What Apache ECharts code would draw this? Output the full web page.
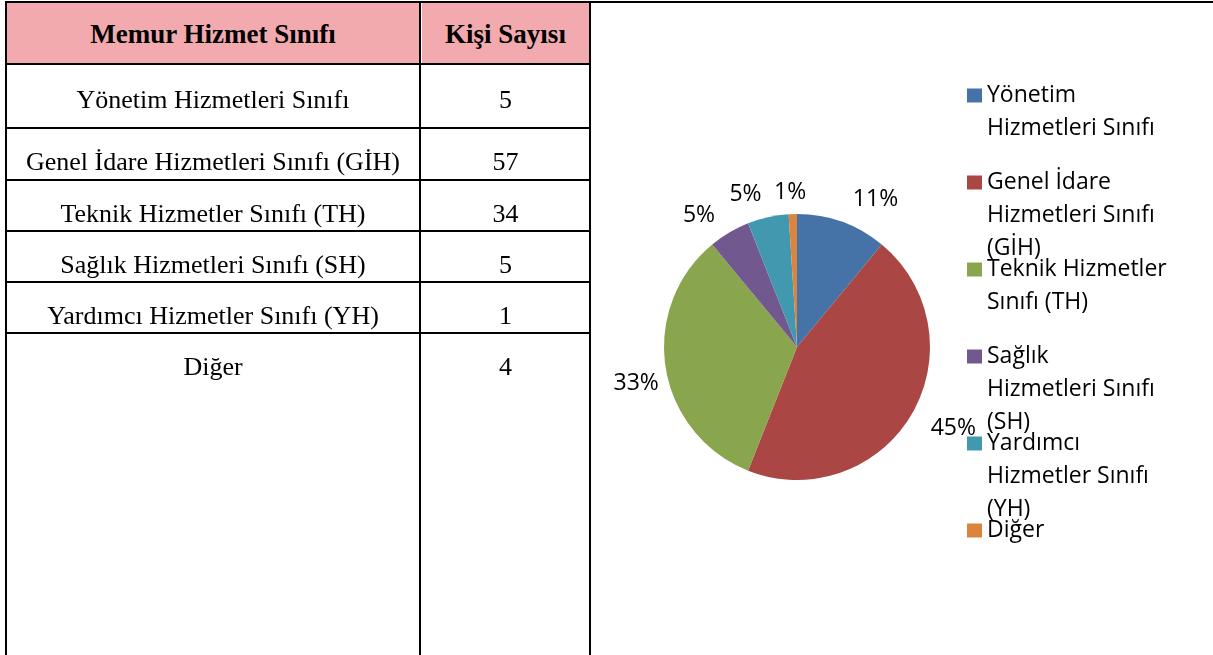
<!DOCTYPE html>
<html>
<head>
<meta charset="utf-8">
<script src="https://cdn.jsdelivr.net/npm/echarts@6/dist/echarts.min.js"></script>
<style>
  body { margin: 0; background: #fff; }
  #page { position: relative; width: 1213px; height: 655px; overflow: hidden; }
  #chart { position: absolute; left: 0; top: 0; width: 1213px; height: 655px; }
  .line { position: absolute; background: #000; z-index: 3; }
  .cell {
    position: absolute; z-index: 2; text-align: center; box-sizing: border-box;
    font-family: "Liberation Serif", serif; font-size: 26px; color: #000; line-height: 28px;
  }
  .head { background: #f2aaae; font-weight: bold; font-size: 27px; display: flex; align-items: center; justify-content: center; padding-top: 2px; }
  .body { padding-top: 19px; }
</style>
</head>
<body>
<div id="page">
  <div id="chart"></div>
</div>
<script>
const tableHeaders = ["Memur Hizmet Sınıfı", "Kişi Sayısı"];
const tableClasses = [
  "Yönetim Hizmetleri Sınıfı",
  "Genel İdare Hizmetleri Sınıfı (GİH)",
  "Teknik Hizmetler Sınıfı (TH)",
  "Sağlık Hizmetleri Sınıfı (SH)",
  "Yardımcı Hizmetler Sınıfı (YH)",
  "Diğer",
];
const tableCounts = [5, 57, 34, 5, 1, 4];

// pie slices (percent)
const pieNames = [
  "Yönetim Hizmetleri Sınıfı",
  "Genel İdare Hizmetleri Sınıfı (GİH)",
  "Teknik Hizmetler Sınıfı (TH)",
  "Sağlık Hizmetleri Sınıfı (SH)",
  "Yardımcı Hizmetler Sınıfı (YH)",
  "Diğer",
];
const pieValues = [11, 45, 33, 5, 5, 1];
const legendLabels = [
  "Yönetim\nHizmetleri Sınıfı",
  "Genel İdare\nHizmetleri Sınıfı\n(GİH)",
  "Teknik Hizmetler\nSınıfı (TH)",
  "Sağlık\nHizmetleri Sınıfı\n(SH)",
  "Yardımcı\nHizmetler Sınıfı\n(YH)",
  "Diğer",
];
const pieColors = ["#4572a7", "#aa4643", "#89a54e", "#71588f", "#4198af", "#db843d"];

// ---- table ----
const page = document.getElementById("page");
function addDiv(cls, x, y, w, h, text) {
  const d = document.createElement("div");
  d.className = cls;
  d.style.left = x + "px";
  d.style.top = y + "px";
  d.style.width = w + "px";
  d.style.height = h + "px";
  if (text !== undefined) d.textContent = text;
  page.appendChild(d);
  return d;
}

const colX = [7, 421, 589];
const rowLines = [63, 127, 179, 230, 281, 332];

// header
addDiv("cell head", colX[0], 3, colX[1] - colX[0] - 2, 60, tableHeaders[0]);
addDiv("cell head", colX[1] + 1, 3, colX[2] - colX[1] - 1, 60, tableHeaders[1]);

tableClasses.forEach((name, i) => {
  const top = rowLines[i] + 2;
  const bottom = i + 1 < rowLines.length ? rowLines[i + 1] : 655;
  const cls = i == 0 ? "cell body first" : "cell body";
  addDiv(cls, colX[0], top, colX[1] - colX[0] - 2, bottom - top, name);
  addDiv(cls, colX[1] + 1, top, colX[2] - colX[1] - 1, bottom - top, String(tableCounts[i]));
});
document.querySelectorAll(".first").forEach((d) => (d.style.paddingTop = "21px"));

// borders
addDiv("line", 5, 1, 1208, 2);
addDiv("line", 5, 1, 2, 654);
addDiv("line", 419, 1, 2, 654);
addDiv("line", 589, 1, 2, 654);
rowLines.forEach((y) => addDiv("line", 5, y, 586, 2));

// ---- pie ----
const chart = echarts.init(document.getElementById("chart"));
const fontFamily = '"Open Sans", "Noto Sans", sans-serif';
// small nudges so the labels sit where Excel's best-fit put them
const labelNudge = [[0, -4], [-2, 4], [17, 13], [0, 0], [2, -3], [18, -2]];

chart.setOption({
  animation: false,
  color: pieColors,
  legend: {
    orient: "vertical",
    left: 967,
    top: 13,
    padding: 0,
    itemWidth: 15,
    itemHeight: 14,
    itemGap: -78,
    icon: "rect",
    selectedMode: false,
    data: pieNames,
    formatter: (name) => {
      const lines = legendLabels[pieNames.indexOf(name)].split("\n");
      const before = ["", ""];
      const after = new Array(3 - lines.length).fill("");
      return before.concat(lines, after).join("\n");
    },
    textStyle: {
      fontFamily: fontFamily,
      fontSize: 23,
      lineHeight: 33,
      color: "#000",
    },
  },
  series: [
    {
      type: "pie",
      center: [797, 347],
      radius: 133,
      startAngle: 90,
      clockwise: true,
      avoidLabelOverlap: false,
      percentPrecision: 0,
      data: pieNames.map((name, i) => ({ name: name, value: pieValues[i] })),
      itemStyle: { borderWidth: 0 },
      label: {
        show: true,
        position: "outside",
        formatter: "{d}%",
        fontFamily: fontFamily,
        fontSize: 23,
        color: "#000",
        distanceToLabelLine: 4,
      },
      labelLine: { show: false, length: 20, length2: 0 },
      labelLayout: (params) => ({
        hideOverlap: false,
        moveOverlap: false,
        dx: labelNudge[params.dataIndex][0],
        dy: labelNudge[params.dataIndex][1],
      }),
      emphasis: { disabled: true },
    },
  ],
});
</script>
</body>
</html>
